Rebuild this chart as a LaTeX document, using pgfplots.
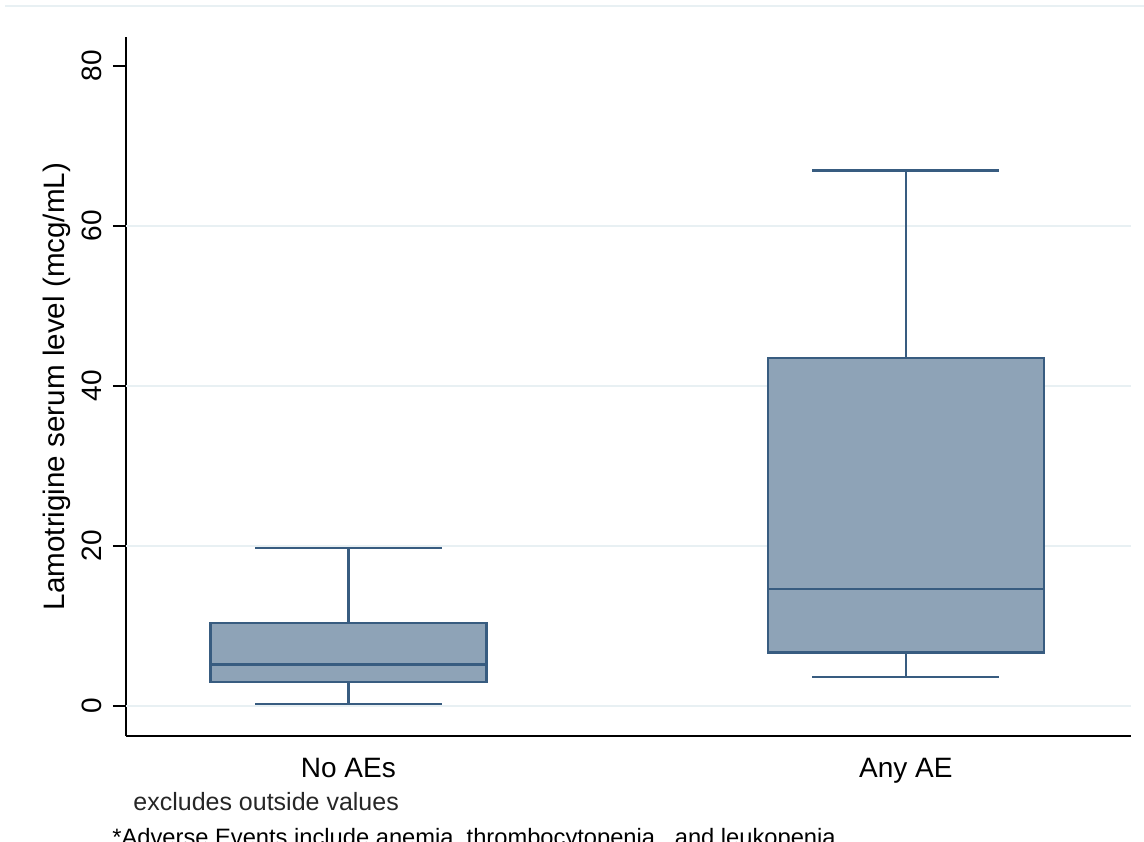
\documentclass[border=0pt]{standalone}
\usepackage{pgfplots}
\pgfplotsset{compat=1.18}
\usepackage{fontspec}
\setmainfont{Liberation Sans}
\definecolor{boxfill}{RGB}{142,163,183}
\definecolor{boxline}{RGB}{56,92,128}
\definecolor{gridcol}{RGB}{232,240,243}
\begin{document}
\begin{tikzpicture}
\useasboundingbox (0pt,0pt) rectangle (572pt,-420.5pt);
\draw[gridcol, line width=1.2pt] (2.5pt,-3pt) -- (572pt,-3pt);
\begin{axis}[
  at={(63pt,-368pt)}, anchor=south west,
  scale only axis, width=502.5pt, height=349.5pt,
  xmin=0.601, xmax=2.404, ymin=-3.75, ymax=83.6,
  axis x line*=bottom, axis y line*=left,
  axis line style={black, line width=1pt, -},
  xtick={1,2}, xticklabels={No AEs, Any AE},
  x tick style={draw=none},
  ytick={0,20,40,60,80},
  y tick style={black, line width=0.9pt},
  tick align=outside, major tick length=6.5pt,
  /pgf/number format/assume math mode=true,
  tick label style={font=\fontsize{14}{16}\selectfont},
  yticklabel style={xshift=-5.5pt, rotate=90, anchor=south, inner sep=0pt},
  xticklabel style={inner sep=0pt, yshift=-4.5pt},
  ylabel={Lamotrigine serum level (mcg/mL)},
  ylabel style={font=\fontsize{14.8}{17}\selectfont},
  ylabel shift=2pt,
  clip=false,
]
% grid lines
\addplot[gridcol, line width=0.8pt, forget plot] coordinates {(0.601,0) (2.404,0)};
\addplot[gridcol, line width=0.8pt, forget plot] coordinates {(0.601,20) (2.404,20)};
\addplot[gridcol, line width=0.8pt, forget plot] coordinates {(0.601,40) (2.404,40)};
\addplot[gridcol, line width=0.8pt, forget plot] coordinates {(0.601,60) (2.404,60)};
% No AEs: lw 0.25, q1 3.0, med 5.2, q3 10.4, uw 19.75
\addplot[boxline, line width=1.2pt] coordinates {(1,10.4) (1,19.75)};
\addplot[boxline, line width=1.2pt] coordinates {(1,0.25) (1,3.0)};
\addplot[boxline, line width=1.2pt] coordinates {(0.8325,19.75) (1.1675,19.75)};
\addplot[boxline, line width=1.2pt] coordinates {(0.8325,0.25) (1.1675,0.25)};
\addplot[draw=boxline, fill=boxfill, line width=1.2pt] coordinates {(0.7525,3.0) (1.2475,3.0) (1.2475,10.4) (0.7525,10.4)} -- cycle;
\addplot[boxline, line width=1.2pt] coordinates {(0.7525,5.2) (1.2475,5.2)};
% Any AE: lw 3.6, q1 6.7, med 14.6, q3 43.5, uw 66.9
\addplot[boxline, line width=1.2pt] coordinates {(2,43.5) (2,66.9)};
\addplot[boxline, line width=1.2pt] coordinates {(2,3.6) (2,6.7)};
\addplot[boxline, line width=1.2pt] coordinates {(1.8325,66.9) (2.1675,66.9)};
\addplot[boxline, line width=1.2pt] coordinates {(1.8325,3.6) (2.1675,3.6)};
\addplot[draw=boxline, fill=boxfill, line width=1.2pt] coordinates {(1.7525,6.7) (2.2475,6.7) (2.2475,43.5) (1.7525,43.5)} -- cycle;
\addplot[boxline, line width=1.2pt] coordinates {(1.7525,14.6) (2.2475,14.6)};
\end{axis}
\node[anchor=base west, inner sep=0pt, font=\fontsize{12.5}{14}\selectfont, text=black!85] at (66.5pt,-405pt) {excludes outside values};
\node[anchor=base west, inner sep=0pt, font=\fontsize{11.85}{14}\selectfont] at (56pt,-422.5pt) {*Adverse Events include anemia, thrombocytopenia , and leukopenia};
\end{tikzpicture}
\end{document}
